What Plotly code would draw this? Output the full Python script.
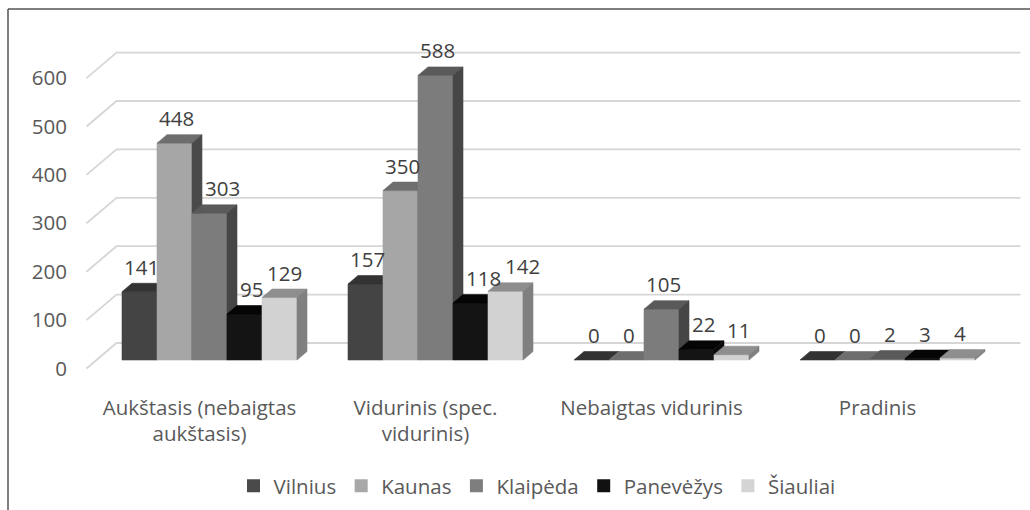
import plotly.graph_objects as go

categories = ["Aukštasis (nebaigtas<br>aukštasis)", "Vidurinis (spec.<br>vidurinis)",
              "Nebaigtas vidurinis", "Pradinis"]
series_names = ["Vilnius", "Kaunas", "Klaipėda", "Panevėžys", "Šiauliai"]
vilnius = [141, 157, 0, 0]
kaunas = [448, 350, 0, 0]
klaipeda = [303, 588, 105, 2]
panevezys = [95, 118, 22, 3]
siauliai = [129, 142, 11, 4]
series_values = [vilnius, kaunas, klaipeda, panevezys, siauliai]
y_ticks = [0, 100, 200, 300, 400, 500, 600]

front_colors = ["#444444", "#a6a6a6", "#7c7c7c", "#141414", "#d2d2d2"]
top_colors = ["#333333", "#6e6e6e", "#5a5a5a", "#050505", "#8e8e8e"]
side_colors = ["#2b2b2b", "#4a4a4a", "#464646", "#0a0a0a", "#808080"]
legend_colors = ["#4a4a4a", "#a8a8a8", "#7e7e7e", "#111111", "#d4d4d4"]

# geometry (pixel scale -> data units)
PX_PER_CAT = 226.0
PX_PER_VAL = 0.484
BAR_W = 35 / PX_PER_CAT
DXD = 10 / PX_PER_CAT
DYD = 8.5 / PX_PER_VAL

L_PX, R_PX, T_PX, B_PX = 70, 1030, 40, 380
C0_PX, Y0_PX = 209.5, 360
x_range = [(L_PX - C0_PX) / PX_PER_CAT, (R_PX - C0_PX) / PX_PER_CAT]
y_range = [(Y0_PX - B_PX) / PX_PER_VAL, (Y0_PX - T_PX) / PX_PER_VAL]

FONT = "Open Sans"
TXT = "#595959"
FS = 20.5

fig = go.Figure()

# gridlines: diagonal from floor front (depth -1) to back wall (depth 2), then along back wall
gx, gy = [], []
x_left = -0.5 - DXD
x_back = -0.5 + 2 * DXD
x_end = 3.5 + 2 * DXD
for v in y_ticks:
    gx += [x_left, x_back, x_end, None]
    gy += [v - DYD, v + 2 * DYD, v + 2 * DYD, None]
fig.add_trace(go.Scatter(x=gx, y=gy, mode="lines", line=dict(color="#d6d6d6", width=1.8),
                         hoverinfo="skip", showlegend=False))


def poly_trace(xs, ys, color):
    return go.Scatter(x=xs, y=ys, mode="lines", fill="toself", fillcolor=color,
                      line=dict(color=color, width=0.6), hoverinfo="skip", showlegend=False)


for j, vals in enumerate(series_values):
    fx, fy, tx, ty, sx, sy = [], [], [], [], [], []
    for i, v in enumerate(vals):
        xl = i + (j - 2.5) * BAR_W
        xr = xl + BAR_W
        if v > 0:
            fx += [xl, xr, xr, xl, xl, None]
            fy += [0, 0, v, v, 0, None]
            sx += [xr, xr + DXD, xr + DXD, xr, xr, None]
            sy += [0, DYD, v + DYD, v, 0, None]
        tx += [xl, xr, xr + DXD, xl + DXD, xl, None]
        ty += [v, v, v + DYD, v + DYD, v, None]
    fig.add_trace(poly_trace(fx, fy, front_colors[j]))
    fig.add_trace(poly_trace(tx, ty, top_colors[j]))
    fig.add_trace(poly_trace(sx, sy, side_colors[j]))

# legend entries
for j, name in enumerate(series_names):
    fig.add_trace(go.Scatter(x=[None], y=[None], mode="markers", name=name,
                             marker=dict(symbol="square", size=13, color=legend_colors[j]),
                             showlegend=True))

# data labels: centred over the bar, nudged right to clear a taller previous bar
# or the previous label
annotations = []
for i in range(len(categories)):
    prev = None
    for j, vals in enumerate(series_values):
        v = vals[i]
        xc = i + (j - 2) * BAR_W
        xc_px = xc * PX_PER_CAT
        half_w = 6.2 * len(str(v))
        shift = 2
        if j > 0 and series_values[j - 1][i] > v:
            shift = max(shift, -17.5 + 12 + half_w)
        y_px = v * PX_PER_VAL
        if prev is not None and abs(prev[2] - y_px) < 20:
            need = prev[0] + prev[1] + half_w + 2 - xc_px
            shift = max(shift, need)
        prev = (xc_px + shift, half_w, y_px)
        annotations.append(dict(x=xc, y=v, xref="x", yref="y", text=str(v), showarrow=False,
                                xshift=shift, yshift=25, yanchor="middle",
                                font=dict(family=FONT, size=FS, color="#404040")))

# frame lines (top and left) in paper coords
pw = R_PX - L_PX
ph = B_PX - T_PX
def px_x(p):
    return (p - L_PX) / pw
def px_y(p):
    return (B_PX - p) / ph

shapes = [
    dict(type="line", xref="paper", yref="paper", x0=px_x(8), x1=px_x(1030), y0=px_y(9), y1=px_y(9),
         line=dict(color="#555555", width=1.5)),
    dict(type="line", xref="paper", yref="paper", x0=px_x(8), x1=px_x(8), y0=px_y(9), y1=px_y(510),
         line=dict(color="#555555", width=1.5)),
]

fig.update_layout(
    width=1030, height=510,
    margin=dict(l=L_PX, r=1030 - R_PX, t=T_PX, b=510 - B_PX, pad=0, autoexpand=False),
    paper_bgcolor="white", plot_bgcolor="white",
    hovermode=False,
    font=dict(family=FONT, size=FS, color=TXT),
    xaxis=dict(range=x_range, showgrid=False, zeroline=False, showline=False, ticks="",
               tickmode="array", tickvals=[i - DXD for i in range(len(categories))],
               ticktext=categories, tickfont=dict(family=FONT, size=FS, color=TXT),
               ticklabelstandoff=13, fixedrange=True, automargin=False),
    yaxis=dict(range=y_range, showgrid=False, zeroline=False, showline=False, ticks="",
               tickmode="array", tickvals=[v - DYD for v in y_ticks],
               ticktext=[str(v) for v in y_ticks], tickfont=dict(family=FONT, size=FS, color=TXT),
               ticklabelstandoff=2, fixedrange=True, automargin=False),
    legend=dict(orientation="h", xref="container", yref="container",
                x=537 / 1030, xanchor="center", y=(510 - 486) / 510, yanchor="middle",
                font=dict(family=FONT, size=FS, color=TXT), itemclick=False, itemdoubleclick=False,
                bgcolor="rgba(0,0,0,0)"),
    annotations=annotations,
    shapes=shapes,
)

fig.write_html("out.html", config={"displayModeBar": False, "staticPlot": True},
               post_script="document.body.style.margin='0';document.body.style.overflow='hidden';")
